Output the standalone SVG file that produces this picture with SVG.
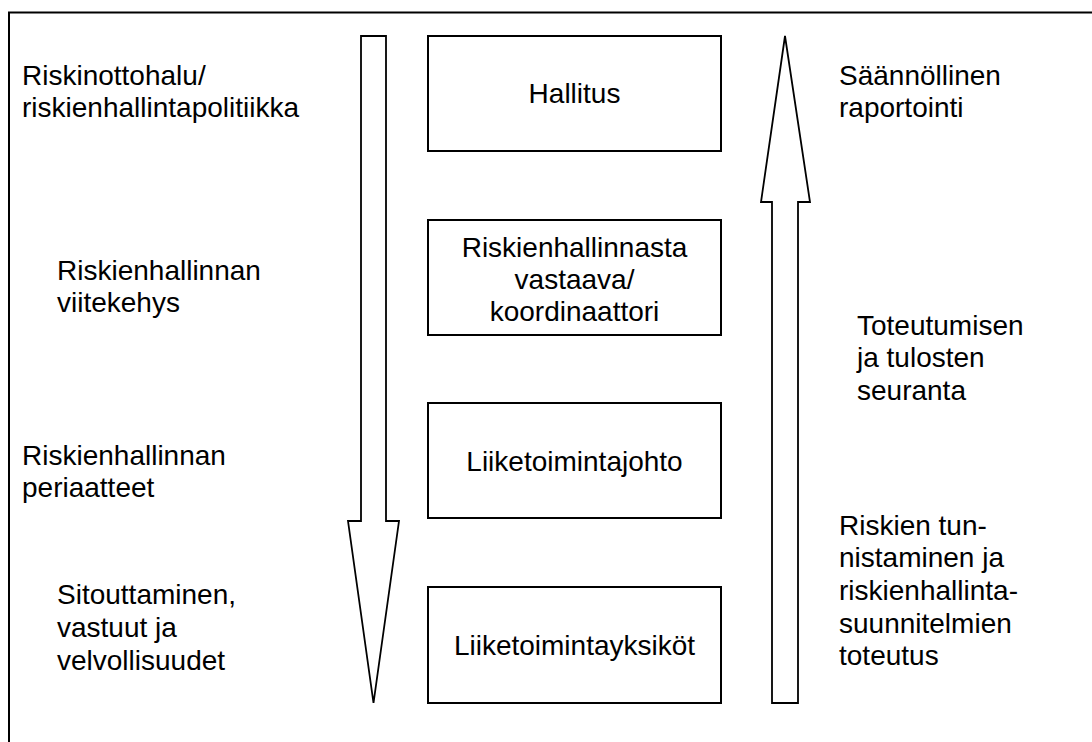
<svg xmlns="http://www.w3.org/2000/svg" width="1092" height="742" viewBox="0 0 1092 742">
  <style>
    .frame { fill: none; stroke: #000; stroke-width: 2; }
    .box { fill: #fff; stroke: #000; stroke-width: 2; }
    .arrow { fill: #fff; stroke: #000; stroke-width: 1.8; stroke-linejoin: miter; }
    text { font-family: "Liberation Sans", Arial, sans-serif; font-size: 28px; fill: #000; }
    .c { text-anchor: middle; }
  </style>
  <rect width="1092" height="742" fill="#fff"/>
  <!-- outer frame, running off the right and bottom edges -->
  <rect class="frame" x="9" y="12.5" width="1100" height="800"/>

  <g id="connectors">
    <!-- downward block arrow: policy flows down -->
    <polygon id="arrow-down" class="arrow" points="361,36 386,36 386,521 399,521 373.5,703 348,521 361,521"/>
    <!-- upward block arrow: reporting flows up -->
    <polygon id="arrow-up" class="arrow" points="772,703 798,703 798,202 810,202 785,36 761,202 772,202"/>
  </g>

  <g id="node-hallitus">
    <rect class="box" x="428" y="36" width="293" height="115"/>
    <text class="c" x="574.5" y="103">Hallitus</text>
  </g>
  <g id="node-koordinaattori">
    <rect class="box" x="428" y="220" width="293" height="115"/>
    <text class="c" x="574.5" y="257">Riskienhallinnasta</text>
    <text class="c" x="574.5" y="289">vastaava/</text>
    <text class="c" x="574.5" y="321">koordinaattori</text>
  </g>
  <g id="node-liiketoimintajohto">
    <rect class="box" x="428" y="403" width="293" height="115"/>
    <text class="c" x="574.5" y="471">Liiketoimintajohto</text>
  </g>
  <g id="node-liiketoimintayksikot">
    <rect class="box" x="428" y="587" width="293" height="116"/>
    <text class="c" x="574.5" y="655">Liiketoimintayksiköt</text>
  </g>

  <g id="labels-left">
    <text x="22" y="85">Riskinottohalu/</text>
    <text x="22" y="117">riskienhallintapolitiikka</text>
    <text x="57" y="280">Riskienhallinnan</text>
    <text x="57" y="312">viitekehys</text>
    <text x="22" y="465">Riskienhallinnan</text>
    <text x="22" y="497">periaatteet</text>
    <text x="57" y="604">Sitouttaminen,</text>
    <text x="57" y="637">vastuut ja</text>
    <text x="57" y="670">velvollisuudet</text>
  </g>

  <g id="labels-right">
    <text x="839" y="85">Säännöllinen</text>
    <text x="839" y="117">raportointi</text>
    <text x="857" y="335">Toteutumisen</text>
    <text x="857" y="367">ja tulosten</text>
    <text x="857" y="400">seuranta</text>
    <text x="839" y="535">Riskien tun-</text>
    <text x="839" y="567">nistaminen ja</text>
    <text x="839" y="600">riskienhallinta-</text>
    <text x="839" y="633">suunnitelmien</text>
    <text x="839" y="665">toteutus</text>
  </g>
</svg>
